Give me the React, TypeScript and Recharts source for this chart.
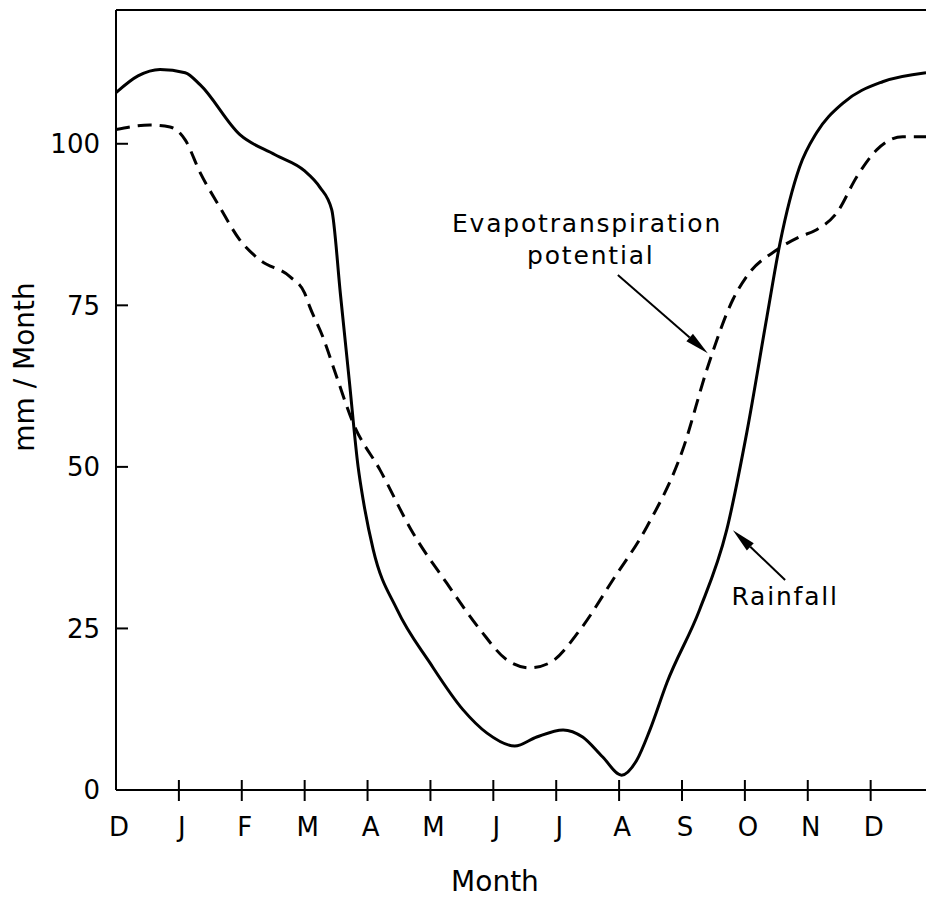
import React from 'react';
import {
  LineChart,
  Line,
  XAxis,
  YAxis,
  ReferenceLine,
  ReferenceDot,
} from 'recharts';

const monthLabels = ['D', 'J', 'F', 'M', 'A', 'M', 'J', 'J', 'A', 'S', 'O', 'N', 'D'];
const monthTicks = [0, 1, 2, 3, 4, 5, 6, 7, 8, 9, 10, 11, 12];
const valueTicks = [0, 25, 50, 75, 100];

// rainfall, solid curve (x = months after December)
const rainMonth = [
  0, 0.35, 0.7, 1.1, 1.34, 1.97, 2.53, 3.0, 3.24, 3.43, 3.57, 3.71, 3.85, 3.93, 4.09,
  4.47, 4.99, 5.52, 5.9, 6.34, 6.69, 7.11, 7.42, 7.74, 8.04, 8.28, 8.49, 8.76, 9.28, 9.71,
  10.03, 10.35, 10.56, 10.87, 11.14, 11.56, 12.19, 12.88,
];
const rainValue = [
  107.9, 110.5, 111.5, 111, 109.1, 101.4, 98.3, 95.8, 93.3, 89.8, 76.6, 63.3, 50, 44.9, 37.2,
  27.9, 19.7, 12.4, 8.8, 6.8, 8.2, 9.3, 8.2, 5.1, 2.3, 4.6, 9.3, 16.6, 27.9, 40.2,
  55.3, 73.2, 84.7, 96.4, 101.7, 106.3, 109.6, 111,
];

// evapotranspiration potential, dashed curve
const etMonth = [
  0, 0.54, 0.86, 1.1, 1.34, 1.65, 1.97, 2.29, 2.77, 3.0, 3.08, 3.29, 3.51, 3.77, 4.2, 4.72,
  5.26, 5.79, 6.22, 6.58, 6.9, 7.38, 7.9, 8.44, 9.01, 9.41, 9.81, 10.03, 10.51, 10.87, 11.14,
  11.46, 11.78, 12.1, 12.51, 12.88,
];
const etValue = [
  102.2, 102.9, 102.6, 100.6, 95.5, 90.2, 85.1, 82, 79.4, 76.9, 74.8, 70.1, 63.9, 56.8, 49.5, 39.8,
  32, 24.8, 20.1, 18.9, 19.7, 24.8, 32.5, 40.7, 52.6, 65.5, 75.9, 79.5, 83.6, 85.6, 86.7,
  89.3, 94.9, 99.1, 101.1, 101.1,
];

const X_MAX = 12.88;
const Y_MAX = 120.7;
const FONT = '"DejaVu Sans", sans-serif';
const X_TICK_SIZE = 10;
const X_TICK_MARGIN = 18;

const rainData = rainMonth.map((m, i) => ({ m, v: rainValue[i] }));
const etData = etMonth.map((m, i) => ({ m, v: etValue[i] }));

const MonthTick = (props: any) => {
  const { x, y, payload } = props;
  const axisY = y - X_TICK_SIZE - X_TICK_MARGIN;
  return (
    <g>
      {payload.value !== 0 && (
        <line x1={x} x2={x} y1={axisY - 10} y2={axisY + 11} stroke="#000" strokeWidth={2} />
      )}
      <text x={x + 3} y={y} dy="0.71em" textAnchor="middle" fontSize={26} fontFamily={FONT} fill="#000">
        {monthLabels[payload.value]}
      </text>
    </g>
  );
};

const Arrow = (p: any) => {
  const { x1, y1, x2, y2 } = p;
  const dx = x2 - x1;
  const dy = y2 - y1;
  const len = Math.hypot(dx, dy);
  const ux = dx / len;
  const uy = dy / len;
  const hl = 24;
  const hw = 5;
  const bx = x2 - ux * hl;
  const by = y2 - uy * hl;
  return (
    <g>
      <line x1={x1} y1={y1} x2={bx} y2={by} stroke="#000" strokeWidth={2} />
      <polygon
        points={`${x2},${y2} ${bx - uy * hw},${by + ux * hw} ${bx + uy * hw},${by - ux * hw}`}
        fill="#000"
      />
    </g>
  );
};

const note = (text: string) => (p: any) => (
  <text
    x={p.cx}
    y={p.cy}
    textAnchor="middle"
    dominantBaseline="central"
    fontSize={25}
    letterSpacing={1.8}
    fontFamily={FONT}
    fill="#000"
  >
    {text}
  </text>
);

const YTitle = (props: any) => {
  const { x, y, height } = props.viewBox;
  const cx = x + 24;
  const cy = y + height / 2 - 33;
  return (
    <text
      x={cx}
      y={cy}
      transform={`rotate(-90 ${cx} ${cy})`}
      textAnchor="middle"
      dominantBaseline="central"
      fontSize={28}
      fontFamily={FONT}
      fill="#000"
    >
      mm / Month
    </text>
  );
};

const XTitle = (props: any) => {
  const { x, y, width, height } = props.viewBox;
  return (
    <text
      x={x + width / 2 - 26}
      y={y + height - 7}
      textAnchor="middle"
      fontSize={28}
      fontFamily={FONT}
      fill="#000"
    >
      Month
    </text>
  );
};

export default function App() {
  return (
    <div style={{ position: 'absolute', left: 0, top: 0, background: '#fff' }}>
      <LineChart width={926} height={898} margin={{ top: 10, right: 0, bottom: 0, left: 0 }}>
        <XAxis
          type="number"
          dataKey="m"
          domain={[0, X_MAX]}
          ticks={monthTicks}
          allowDataOverflow
          height={108}
          tickLine={false}
          tickSize={X_TICK_SIZE}
          tickMargin={X_TICK_MARGIN}
          tick={<MonthTick />}
          axisLine={{ stroke: '#000', strokeWidth: 2 }}
          label={{ content: XTitle }}
        />
        <YAxis
          type="number"
          domain={[0, Y_MAX]}
          ticks={valueTicks}
          allowDataOverflow
          width={116}
          tickSize={-12}
          tickMargin={28}
          tickLine={{ stroke: '#000', strokeWidth: 2 }}
          axisLine={{ stroke: '#000', strokeWidth: 2 }}
          tick={{ fontSize: 26, fontFamily: FONT, fill: '#000' }}
          label={{ content: YTitle }}
        />
        <ReferenceLine y={Y_MAX} stroke="#000" strokeWidth={2} />
        <Line
          data={rainData}
          dataKey="v"
          type="monotone"
          stroke="#000"
          strokeWidth={3}
          dot={false}
          isAnimationActive={false}
        />
        <Line
          data={etData}
          dataKey="v"
          type="monotone"
          stroke="#000"
          strokeWidth={3}
          strokeDasharray="14 8"
          dot={false}
          isAnimationActive={false}
        />
        <ReferenceLine segment={[{ x: 7.98, y: 79.7 }, { x: 9.41, y: 67.6 }]} shape={<Arrow />} />
        <ReferenceLine segment={[{ x: 10.64, y: 32.5 }, { x: 9.81, y: 40.2 }]} shape={<Arrow />} />
        <ReferenceDot x={7.49} y={87.6} r={0} shape={note('Evapotranspiration')} />
        <ReferenceDot x={7.55} y={82.7} r={0} shape={note('potential')} />
        <ReferenceDot x={10.64} y={30} r={0} shape={note('Rainfall')} />
      </LineChart>
    </div>
  );
}
